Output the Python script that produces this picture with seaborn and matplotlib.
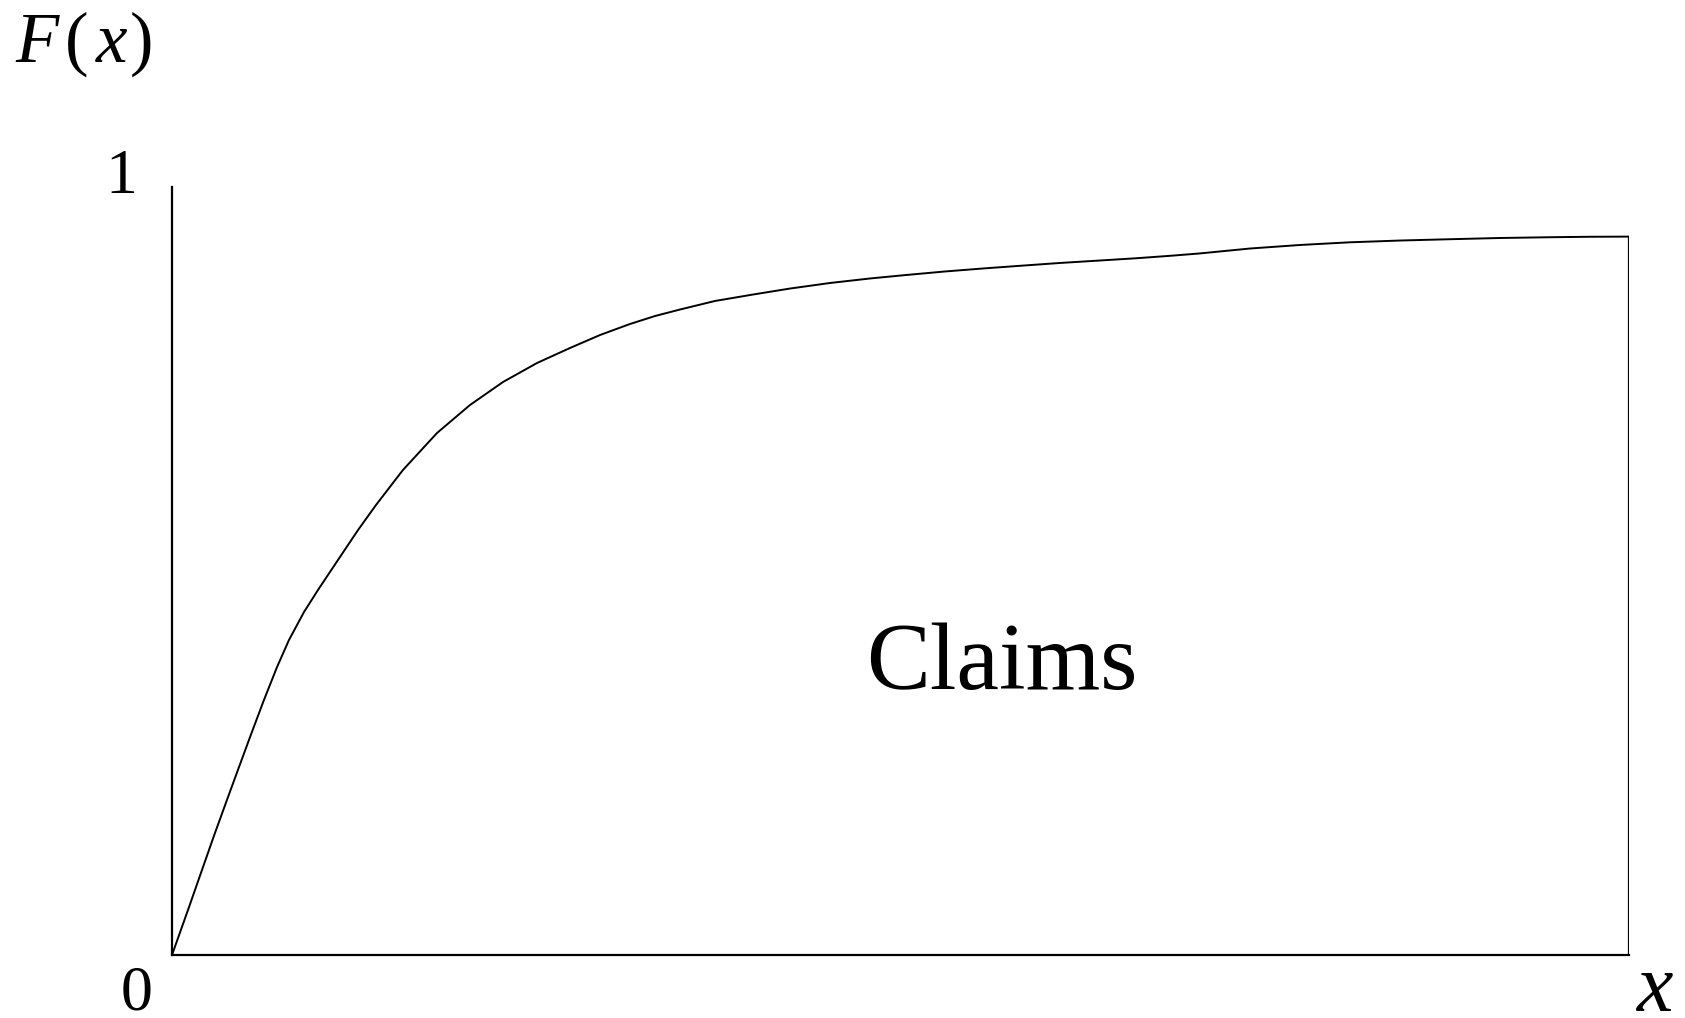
import matplotlib
matplotlib.use("Agg")
import matplotlib.pyplot as plt
import seaborn as sns
import pandas as pd

# Claim size distribution curve F(x); x is scaled to [0, 1]
claim_x = [0.0000, 0.0117, 0.0213, 0.0295, 0.0377, 0.0460, 0.0546, 0.0631,
           0.0721, 0.0803, 0.0906, 0.1002, 0.1139, 0.1277, 0.1400, 0.1585,
           0.1819, 0.2045, 0.2272, 0.2505, 0.2732, 0.2938, 0.3143, 0.3315,
           0.3487, 0.3727, 0.3988, 0.4242, 0.4516, 0.4791, 0.5038, 0.5305,
           0.5566, 0.5820, 0.6088, 0.6369, 0.6616, 0.6850, 0.7049, 0.7399,
           0.7742, 0.8085, 0.8428, 0.8771, 0.9115, 0.9458, 0.9732, 1.0000]
claim_F = [0.0000, 0.0625, 0.1146, 0.1589, 0.2018, 0.2448, 0.2891, 0.3320,
           0.3750, 0.4102, 0.4466, 0.4753, 0.5143, 0.5534, 0.5859, 0.6315,
           0.6797, 0.7161, 0.7461, 0.7708, 0.7904, 0.8073, 0.8216, 0.8320,
           0.8405, 0.8516, 0.8600, 0.8678, 0.8750, 0.8809, 0.8854, 0.8900,
           0.8939, 0.8974, 0.9010, 0.9043, 0.9072, 0.9104, 0.9134, 0.9199,
           0.9245, 0.9280, 0.9303, 0.9320, 0.9336, 0.9346, 0.9352, 0.9354]

y_tick_labels = ["0", "1"]
area_label = "Claims"

W, H = 1685, 1018
DPI = 100
SERIF = ["Liberation Serif", "STIXGeneral", "DejaVu Serif"]

sns.set_theme(style="white")
plt.rcParams["font.family"] = SERIF

fig = plt.figure(figsize=(W / DPI, H / DPI), dpi=DPI)
fig.patch.set_facecolor("white")

left_px, right_px, bottom_px, top_px = 172, 1629, 955, 187
ax = fig.add_axes([left_px / W, 1 - bottom_px / H,
                   (right_px - left_px) / W, (bottom_px - top_px) / H])

df = pd.DataFrame({"x": claim_x, "F": claim_F})
sns.lineplot(data=df, x="x", y="F", ax=ax, color="black", linewidth=1.4,
             sort=True)

# closing vertical edge at the right end of the curve
ax.plot([claim_x[-1], claim_x[-1]], [0, claim_F[-1]], color="black",
        linewidth=1.6, solid_capstyle="projecting")

ax.set_xlim(0, 1)
ax.set_ylim(0, 1)
ax.set_xticks([])
ax.set_yticks([])
ax.set_xlabel("")
ax.set_ylabel("")
for side in ["top", "right"]:
    ax.spines[side].set_visible(False)
for side in ["left", "bottom"]:
    ax.spines[side].set_color("black")
    ax.spines[side].set_linewidth(1.6)
ax.set_facecolor("white")


def px_text(x, y, s, **kw):
    fig.text(x / W, 1 - y / H, s, color="black", family=SERIF, **kw)


# axis title F(x): italic letters, upright parentheses
px_text(15, 62, "F", fontsize=51, fontstyle="italic", ha="left", va="baseline")
px_text(65, 62, "(", fontsize=51, ha="left", va="baseline")
px_text(96, 62, "x", fontsize=51, fontstyle="italic", ha="left", va="baseline")
px_text(130, 62, ")", fontsize=51, ha="left", va="baseline")

px_text(121, 193, y_tick_labels[1], fontsize=46, ha="center", va="baseline")
px_text(137, 1010, y_tick_labels[0], fontsize=46, ha="center", va="baseline")
px_text(1637, 1011, "x", fontsize=59, fontstyle="italic", ha="left",
        va="baseline")
px_text(866, 689, area_label, fontsize=69, ha="left", va="baseline")

fig.savefig("out.png", dpi=DPI, facecolor="white")
